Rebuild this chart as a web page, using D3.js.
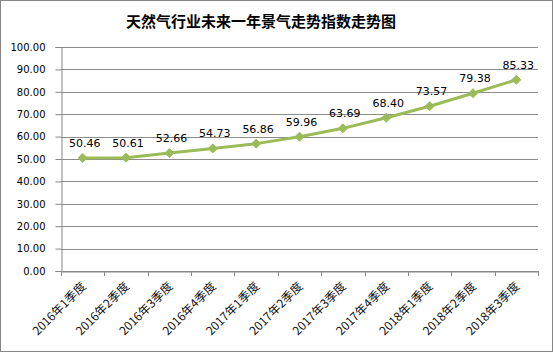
<!DOCTYPE html>
<html>
<head>
<meta charset="utf-8">
<script src="https://cdn.jsdelivr.net/npm/d3@7"></script>
<style>
  body { margin: 0; background: #fff; }
  svg { display: block; }
</style>
</head>
<body>
<div id="chart"></div>
<script>
// Chart data
const title = '天然气行业未来一年景气走势指数走势图';
const categories = ['2016年1季度', '2016年2季度', '2016年3季度', '2016年4季度', '2017年1季度',
  '2017年2季度', '2017年3季度', '2017年4季度', '2018年1季度', '2018年2季度', '2018年3季度'];
const values = [50.46, 50.61, 52.66, 54.73, 56.86, 59.96, 63.69, 68.40, 73.57, 79.38, 85.33];
const yTicks = [0, 10, 20, 30, 40, 50, 60, 70, 80, 90, 100];

const width = 553;
const height = 352;
const margin = { top: 47, right: 15, bottom: 81, left: 61 };

const svg = d3.select('#chart')
  .append('svg')
  .attr('width', width)
  .attr('height', height);

// Outer border
svg.append('rect')
  .attr('x', 0.5)
  .attr('y', 0.5)
  .attr('width', width - 1)
  .attr('height', height - 1)
  .attr('fill', '#fff')
  .attr('stroke', '#868686');

// Title
svg.append('text')
  .attr('x', 261)
  .attr('y', 27)
  .attr('text-anchor', 'middle')
  .attr('font-family', '"Noto Sans CJK SC", sans-serif')
  .attr('font-size', '15px')
  .attr('font-weight', 'bold')
  .attr('fill', '#000')
  .text(title);

const chart = svg.append('g')
  .attr('transform', `translate(${margin.left}, ${margin.top})`);

const innerW = width - margin.left - margin.right;
const innerH = height - margin.top - margin.bottom;

const xScale = d3.scaleBand()
  .domain(categories)
  .range([0, innerW]);

const yScale = d3.scaleLinear()
  .domain([0, 100])
  .range([innerH, 0]);

// Gridlines
chart.append('g')
  .selectAll('line')
  .data(yTicks)
  .enter()
  .append('line')
  .attr('x1', 0)
  .attr('x2', innerW)
  .attr('y1', d => Math.round(yScale(d)) + 0.5)
  .attr('y2', d => Math.round(yScale(d)) + 0.5)
  .attr('stroke', '#8c8c8c')
  .attr('stroke-width', 1);

// Y axis
const yAxis = chart.append('g')
  .attr('transform', 'translate(0.5, 0)')
  .call(d3.axisLeft(yScale).tickValues(yTicks).tickFormat(d3.format('.2f')).tickSize(6).tickPadding(10));
yAxis.select('.domain').attr('stroke', '#868686');
yAxis.selectAll('.tick line').attr('stroke', '#868686');
yAxis.selectAll('text')
  .attr('font-family', '"DejaVu Sans", Verdana, sans-serif')
  .attr('font-size', '10px')
  .attr('fill', '#000');

// X axis
const xAxis = chart.append('g')
  .attr('transform', `translate(0, ${Math.round(innerH) + 0.5})`)
  .call(d3.axisBottom(xScale).tickSize(0).tickFormat(''));
xAxis.select('.domain').attr('stroke', '#868686');
xAxis.selectAll('.tick').remove();

// Category boundary ticks
chart.append('g')
  .selectAll('line')
  .data(d3.range(categories.length + 1))
  .enter()
  .append('line')
  .attr('x1', i => Math.round(i * xScale.step()) + 0.5)
  .attr('x2', i => Math.round(i * xScale.step()) + 0.5)
  .attr('y1', innerH)
  .attr('y2', innerH + 5)
  .attr('stroke', '#868686');

// Category labels, rotated
chart.append('g')
  .selectAll('text')
  .data(categories)
  .enter()
  .append('text')
  .attr('transform', d => `translate(${xScale(d) + xScale.bandwidth() / 2 + 4}, ${innerH + 16}) rotate(-45)`)
  .attr('text-anchor', 'end')
  .attr('font-family', '"Noto Sans CJK SC", sans-serif')
  .attr('font-size', '12px')
  .attr('fill', '#111')
  .text(d => d);

// Line
const line = d3.line()
  .x((d, i) => xScale(categories[i]) + xScale.bandwidth() / 2)
  .y(d => yScale(d));

chart.append('path')
  .datum(values)
  .attr('d', line)
  .attr('fill', 'none')
  .attr('stroke', '#9bbb59')
  .attr('stroke-width', 3)
  .attr('stroke-linejoin', 'round');

// Diamond markers
chart.selectAll('.marker')
  .data(values)
  .enter()
  .append('path')
  .attr('class', 'marker')
  .attr('transform', (d, i) => `translate(${xScale(categories[i]) + xScale.bandwidth() / 2}, ${yScale(d)})`)
  .attr('d', 'M0,-4.5L4.5,0L0,4.5L-4.5,0Z')
  .attr('fill', '#9bbb59')
  .attr('stroke', '#9bbb59');

// Data labels
chart.selectAll('.label')
  .data(values)
  .enter()
  .append('text')
  .attr('class', 'label')
  .attr('x', (d, i) => xScale(categories[i]) + xScale.bandwidth() / 2 + 2)
  .attr('y', d => yScale(d) - 11)
  .attr('text-anchor', 'middle')
  .attr('font-family', '"DejaVu Sans", Verdana, sans-serif')
  .attr('font-size', '11px')
  .attr('fill', '#000')
  .text(d => d.toFixed(2));
</script>
</body>
</html>
